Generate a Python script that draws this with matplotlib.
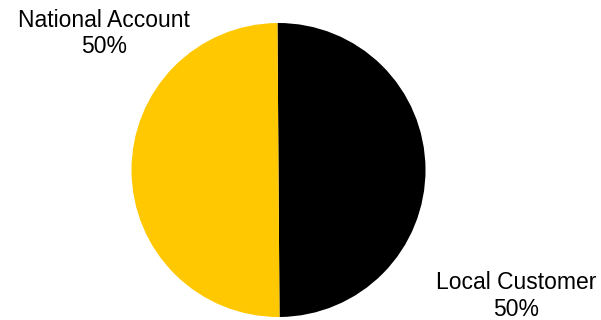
import matplotlib
matplotlib.use("Agg")
import matplotlib.pyplot as plt

# data
categories = ["Local Customer", "National Account"]
shares = [50, 50]
colors = ["#000000", "#FFC800"]

plt.rcParams['font.family'] = ['Liberation Sans', 'DejaVu Sans']

fig = plt.figure(figsize=(6.01, 3.2), dpi=100)
ax = fig.add_axes([0, 0, 1, 1])

# pixel-like coordinates, y up
ax.pie(shares, colors=colors, startangle=90.4, counterclock=False,
       center=(278.5, 150), radius=147, frame=True,
       wedgeprops=dict(linewidth=0))
ax.set_xlim(0, 601)
ax.set_ylim(0, 320)
ax.set_aspect('equal')
ax.axis('off')

total = sum(shares)
label_pos = {"Local Customer": (516, 24), "National Account": (104, 286.5)}
for name, val in zip(categories, shares):
    x, y = label_pos[name]
    ax.text(x, y, f"{name}\n{val / total * 100:.0f}%", ha='center', va='center',
            fontsize=16.5, linespacing=1.2, color='#000000')

fig.savefig("out.png", dpi=100)
